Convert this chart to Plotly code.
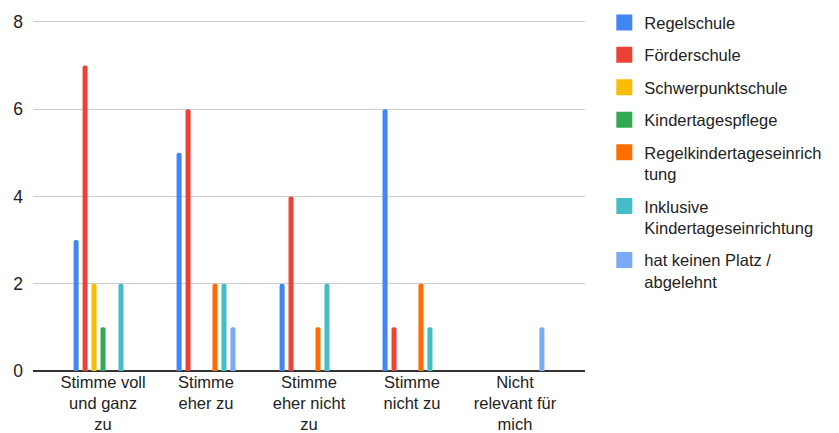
import plotly.graph_objects as go

categories = ["Stimme voll<br>und ganz<br>zu", "Stimme<br>eher zu", "Stimme<br>eher nicht<br>zu",
              "Stimme<br>nicht zu", "Nicht<br>relevant für<br>mich"]
series_names = ["Regelschule", "Förderschule", "Schwerpunktschule", "Kindertagespflege",
                "Regelkindertageseinrich<br>tung", "Inklusive<br>Kindertageseinrichtung",
                "hat keinen Platz /<br>abgelehnt"]
regelschule = [3, 5, 2, 6, 0]
foerderschule = [7, 6, 4, 1, 0]
schwerpunktschule = [2, 0, 0, 0, 0]
kindertagespflege = [1, 0, 0, 0, 0]
regelkita = [0, 2, 1, 2, 0]
inklusive_kita = [2, 2, 2, 1, 0]
kein_platz = [0, 1, 0, 0, 1]
y_ticks = [0, 2, 4, 6, 8]

colors = ["#4285F4", "#EA4335", "#FBBC04", "#34A853", "#FF6D01", "#46BDC6", "#7BAAF7"]
all_values = [regelschule, foerderschule, schwerpunktschule, kindertagespflege,
              regelkita, inklusive_kita, kein_platz]

FONT = "Liberation Sans, Arial, sans-serif"
fig = go.Figure()
for i, (name, vals, col) in enumerate(zip(series_names, all_values, colors)):
    fig.add_trace(go.Bar(
        x=list(range(len(categories))),
        y=[v if v else None for v in vals],
        marker=dict(color=col, line=dict(width=0)),
        name=name, showlegend=False,
    ))
    fig.add_trace(go.Scatter(
        x=[None], y=[None], mode="markers", name=name,
        marker=dict(symbol="square", size=16, color=col),
        legendgroup=f"g{i}", showlegend=True,
    ))

fig.update_layout(
    width=839, height=433,
    margin=dict(l=33, r=254, t=18, b=62, autoexpand=False),
    paper_bgcolor="white", plot_bgcolor="white",
    barmode="group", bargap=0.39, bargroupgap=0.44, barcornerradius=2,
    font=dict(family=FONT, size=17.5, color="#222"),
    legend=dict(x=1.035, xanchor="left", xref="paper", y=0.988, yref="container",
                yanchor="top", valign="top", tracegroupgap=8, maxheight=425,
                font=dict(family=FONT, size=16.5, color="#222"),
                bgcolor="rgba(0,0,0,0)"),
    xaxis=dict(range=[-0.68, 4.68], tickmode="array",
               tickvals=list(range(len(categories))), ticktext=categories,
               showgrid=False, zeroline=False, showline=False, ticks="",
               automargin=False, ticklabelstandoff=-1,
               tickfont=dict(size=16.5, color="#222")),
    yaxis=dict(range=[0, 8.09], tickvals=y_ticks, showgrid=True, gridcolor="#cccccc",
               gridwidth=1, zeroline=True, zerolinecolor="#333333", zerolinewidth=1.5,
               showline=False, ticks="", ticklabelstandoff=9, automargin=False,
               tickfont=dict(size=17.5, color="#222")),
)

fig.write_html("out.html", config={"displayModeBar": False},
               post_script="document.body.style.margin='0';")
